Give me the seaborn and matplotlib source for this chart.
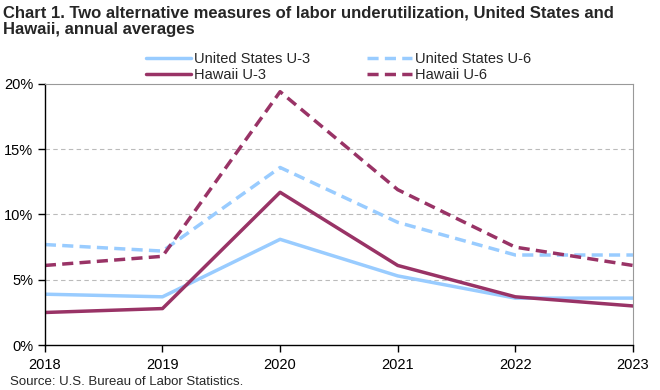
import pandas as pd
import matplotlib.pyplot as plt
import seaborn as sns
from matplotlib.ticker import FuncFormatter

# Annual averages, percent
years = [2018, 2019, 2020, 2021, 2022, 2023]
us_u3 = [3.9, 3.7, 8.1, 5.3, 3.6, 3.6]
us_u6 = [7.7, 7.2, 13.6, 9.4, 6.9, 6.9]
hi_u3 = [2.5, 2.8, 11.7, 6.1, 3.7, 3.0]
hi_u6 = [6.1, 6.8, 19.4, 11.9, 7.5, 6.1]

series_names = ['United States U-3', 'United States U-6', 'Hawaii U-3', 'Hawaii U-6']

BLUE = '#99CCFF'
MAROON = '#993366'


def setup_plotting():
    sns.set_style('white')
    plt.rcParams['font.family'] = ['Liberation Sans', 'DejaVu Sans']


def main():
    setup_plotting()

    df = pd.DataFrame({
        'year': years * 4,
        'value': us_u3 + us_u6 + hi_u3 + hi_u6,
        'series': [s for s in series_names for _ in years],
    })

    fig = plt.figure(figsize=(6.6, 3.9), dpi=100)
    ax = fig.add_axes([0.068, 0.115, 0.891, 0.670])

    styles = {
        'United States U-3': (BLUE, '-'),
        'United States U-6': (BLUE, (0, (3.2, 1.8))),
        'Hawaii U-3': (MAROON, '-'),
        'Hawaii U-6': (MAROON, (0, (3.2, 1.8))),
    }
    for name in series_names:
        color, ls = styles[name]
        sub = df[df['series'] == name]
        sns.lineplot(data=sub, x='year', y='value', ax=ax, color=color,
                     linestyle=ls, linewidth=2.5, label=name)

    ax.set_xlim(2018, 2023)
    ax.set_ylim(0, 20)
    ax.set_xticks(years)
    ax.set_yticks([0, 5, 10, 15, 20])
    ax.yaxis.set_major_formatter(FuncFormatter(lambda v, p: f'{v:.0f}%'))
    ax.set_xlabel('')
    ax.set_ylabel('')

    for y in [5, 10, 15]:
        ax.axhline(y, color='#BBBBBB', linestyle=(0, (4, 3)), linewidth=0.8, zorder=0)

    for side in ['top', 'right']:
        ax.spines[side].set_color('#999999')
        ax.spines[side].set_linewidth(0.8)
    for side in ['left', 'bottom']:
        ax.spines[side].set_color('black')
        ax.spines[side].set_linewidth(1.0)

    ax.tick_params(axis='both', which='both', direction='out', length=5, width=1,
                   color='black', labelsize=10.5, labelcolor='black',
                   bottom=True, left=True)
    ax.tick_params(axis='x', pad=4)

    # column-major order so rows read US U-3 | US U-6, Hawaii U-3 | Hawaii U-6
    handles, labels = ax.get_legend_handles_labels()
    order = [0, 2, 1, 3]
    ax.legend([handles[i] for i in order], [labels[i] for i in order],
              ncol=2, frameon=False, fontsize=10.5,
              loc='lower left', bbox_to_anchor=(0.162, 0.985),
              handlelength=3.1, handletextpad=0.2, columnspacing=3.9,
              labelspacing=0.15, borderaxespad=0)

    fig.text(0.005, 0.985,
             'Chart 1. Two alternative measures of labor underutilization, United States and\nHawaii, annual averages',
             ha='left', va='top', fontsize=12, fontweight='bold', linespacing=1.1)
    fig.text(0.015, 0.005, 'Source: U.S. Bureau of Labor Statistics.',
             ha='left', va='bottom', fontsize=9.5)

    fig.savefig('out.png', dpi=100)
    plt.close(fig)


if __name__ == '__main__':
    main()
